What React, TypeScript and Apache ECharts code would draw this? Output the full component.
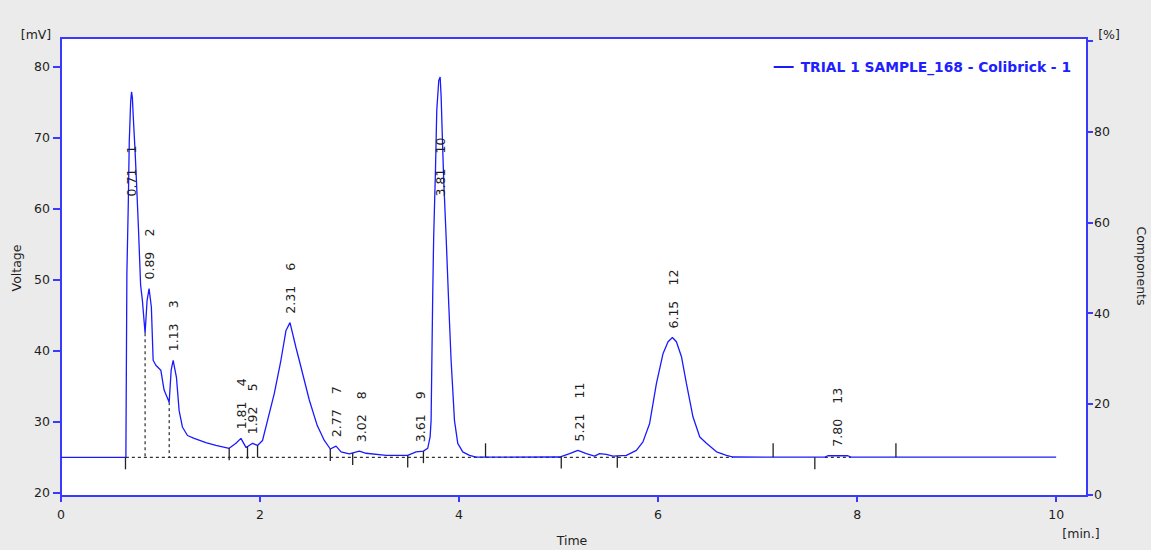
import React, { useEffect, useRef } from 'react';
import * as echarts from 'echarts';

const FONT = '"DejaVu Sans", Verdana, sans-serif';
const BLUE = '#3a3aff';
const TRACE = '#1a1aff';
const INK = '#1e1e1e';
const SERIES_NAME = 'TRIAL 1 SAMPLE_168 - Colibrick - 1';

// Chromatogram trace (time [min], voltage [mV])
const traceTimes = [
  0, 0.652, 0.662, 0.676, 0.686, 0.7, 0.709, 0.717, 0.728, 0.744, 0.758, 0.778, 0.8, 0.818,
  0.845, 0.865, 0.885, 0.908, 0.926, 0.953, 1.003, 1.036, 1.087, 1.107, 1.127, 1.16, 1.187,
  1.22, 1.271, 1.338, 1.456, 1.556, 1.69, 1.758, 1.808, 1.86, 1.925, 1.975, 2.025, 2.075,
  2.143, 2.21, 2.261, 2.301, 2.361, 2.394, 2.495, 2.575, 2.646, 2.706, 2.764, 2.814, 2.897,
  2.998, 3.065, 3.267, 3.484, 3.568, 3.642, 3.685, 3.709, 3.719, 3.735, 3.745, 3.763, 3.776,
  3.796, 3.81, 3.82, 3.83, 3.846, 3.87, 3.896, 3.92, 3.954, 3.987, 4.037, 4.105, 4.172,
  5.01, 5.111, 5.194, 5.279, 5.362, 5.412, 5.48, 5.546, 5.681, 5.782, 5.848, 5.915, 5.983,
  6.049, 6.1, 6.144, 6.184, 6.235, 6.285, 6.351, 6.419, 6.486, 6.587, 6.687, 6.754, 7.676,
  7.706, 7.907, 7.938, 10.0,
];
const traceVoltages = [
  24.93, 24.93, 50.8, 60.5, 69.4, 75.0, 76.4, 75.6, 72.4, 68.2, 63.9, 57.3, 49.2, 47.0,
  42.4, 47.0, 48.7, 46.1, 38.6, 37.9, 37.2, 34.4, 32.7, 37.2, 38.6, 36.2, 31.5,
  29.2, 28.0, 27.6, 27.0, 26.6, 26.2, 26.9, 27.6, 26.3, 26.9, 26.6, 27.3, 30.1,
  33.9, 38.6, 42.8, 43.9, 40.4, 38.6, 33.0, 29.4, 27.3, 26.1, 26.5, 25.7, 25.4,
  25.8, 25.5, 25.2, 25.2, 25.7, 25.8, 26.2, 27.8, 30.1, 47.5, 56.0, 65.4, 73.8,
  78.0, 78.5, 75.7, 71.0, 63.9, 56.0, 46.6, 38.6, 30.1, 26.9, 25.7, 25.2, 24.96,
  24.97, 25.45, 25.9, 25.45, 25.1, 25.45, 25.35, 25.1, 25.2, 25.9, 27.1, 29.7, 35.3,
  39.5, 41.2, 41.8, 41.2, 39.1, 35.3, 30.6, 27.8, 26.9, 25.7, 25.2, 24.97, 24.95,
  25.15, 25.15, 24.95, 24.95,
];

// Peak annotations
const peakTimes = [0.71, 0.89, 1.13, 1.81, 1.92, 2.31, 2.77, 3.02, 3.61, 3.81, 5.21, 6.15, 7.8];
const peakNumbers = [1, 2, 3, 4, 5, 6, 7, 8, 9, 10, 11, 12, 13];
const peakApex = [76.4, 48.7, 38.6, 27.6, 26.9, 43.9, 26.5, 25.8, 25.8, 78.5, 25.9, 41.8, 25.15];

// Integration marks
const BASELINE = 24.93;
const baselineSegments = [
  [0.652, 6.754],
  [7.676, 7.938],
];
const dropLineTimes = [0.845, 1.087];
const downTickTimes = [0.648, 1.69, 1.874, 1.975, 2.706, 2.931, 3.484, 3.642, 5.027, 5.59, 7.575];
const upTickTimes = [4.266, 7.156, 8.39];

// Axis ticks
const timeTicks = [0, 2, 4, 6, 8, 10];
const voltageTicks = [20, 30, 40, 50, 60, 70, 80];
const componentTicks = [0, 20, 40, 60, 80];

const LABEL_CAP = 60.4; // labels of very tall peaks are kept lower

function traceAt(t: number): number {
  for (let i = 1; i < traceTimes.length; i++) {
    if (t <= traceTimes[i]) {
      const t0 = traceTimes[i - 1];
      const t1 = traceTimes[i];
      const f = t1 === t0 ? 0 : (t - t0) / (t1 - t0);
      return traceVoltages[i - 1] + f * (traceVoltages[i] - traceVoltages[i - 1]);
    }
  }
  return traceVoltages[traceVoltages.length - 1];
}

const textStyleBase = { fontSize: 12.5, fontFamily: FONT, fill: INK };

export default function App() {
  const ref = useRef<HTMLDivElement>(null);

  useEffect(() => {
    if (!ref.current) return;
    const chart = echarts.init(ref.current, null, { renderer: 'svg' });

    const option: any = {
      animation: false,
      backgroundColor: '#ebebeb',
      textStyle: { fontFamily: FONT },
      grid: {
        left: 61,
        right: 64,
        top: 38,
        bottom: 54,
        show: true,
        backgroundColor: '#ffffff',
        borderColor: BLUE,
        borderWidth: 2,
        containLabel: false,
        outerBoundsMode: 'none',
      },
      legend: {
        top: 55,
        right: 75,
        icon: 'rect',
        itemWidth: 20,
        itemHeight: 2,
        data: [SERIES_NAME],
        textStyle: {
          fontFamily: FONT,
          fontSize: 13.8,
          fontWeight: 'bold',
          color: '#2020ff',
          padding: [0, 0, 0, 2],
        },
      },
      xAxis: {
        type: 'value',
        min: 0,
        max: 10.31,
        position: 'bottom',
        axisLine: { show: true, onZero: false, lineStyle: { color: BLUE, width: 2 } },
        axisTick: { show: true, length: 6, customValues: timeTicks, lineStyle: { color: BLUE, width: 2 } },
        axisLabel: { customValues: timeTicks, margin: 12, color: INK, fontSize: 12.5, fontFamily: FONT },
        splitLine: { show: false },
      },
      yAxis: [
        {
          type: 'value',
          min: 19.48,
          max: 83.99,
          position: 'left',
          axisLine: { show: true, onZero: false, lineStyle: { color: BLUE, width: 2 } },
          axisTick: { show: true, length: 8, customValues: voltageTicks, lineStyle: { color: BLUE, width: 2 } },
          axisLabel: { customValues: voltageTicks, margin: 11, color: INK, fontSize: 12.5, fontFamily: FONT },
          splitLine: { show: false },
        },
        {
          type: 'value',
          min: -0.3,
          max: 100.6,
          position: 'right',
          axisLine: { show: true, onZero: false, lineStyle: { color: BLUE, width: 2 } },
          axisTick: { show: true, length: 6, customValues: [...componentTicks, 100], lineStyle: { color: BLUE, width: 2 } },
          axisLabel: { customValues: componentTicks, margin: 7, color: INK, fontSize: 12.5, fontFamily: FONT },
          splitLine: { show: false },
        },
      ],
      graphic: [
        { type: 'text', x: 36, y: 34, style: { ...textStyleBase, text: '[mV]', align: 'center', verticalAlign: 'middle' } },
        { type: 'text', x: 1109, y: 34, style: { ...textStyleBase, text: '[%]', align: 'center', verticalAlign: 'middle' } },
        { type: 'text', x: 16, y: 268, rotation: Math.PI / 2, style: { ...textStyleBase, text: 'Voltage', align: 'center', verticalAlign: 'middle' } },
        { type: 'text', x: 1141, y: 266, rotation: -Math.PI / 2, style: { ...textStyleBase, text: 'Components', align: 'center', verticalAlign: 'middle' } },
        { type: 'text', x: 572, y: 540, style: { ...textStyleBase, text: 'Time', align: 'center', verticalAlign: 'middle' } },
        { type: 'text', x: 1081, y: 533, style: { ...textStyleBase, text: '[min.]', align: 'center', verticalAlign: 'middle' } },
      ],
      series: [
        {
          name: 'baseline',
          type: 'custom',
          silent: true,
          z: 1,
          data: baselineSegments,
          renderItem: (_p: any, api: any) => {
            const a = api.coord([api.value(0), BASELINE]);
            const b = api.coord([api.value(1), BASELINE]);
            return {
              type: 'line',
              shape: { x1: a[0], y1: a[1], x2: b[0], y2: b[1] },
              style: { stroke: '#000', lineWidth: 1, lineDash: [3, 3] },
            };
          },
        },
        {
          name: SERIES_NAME,
          type: 'line',
          z: 3,
          showSymbol: false,
          symbol: 'none',
          color: TRACE,
          lineStyle: { color: TRACE, width: 1.3 },
          data: traceTimes.map((t, i) => [t, traceVoltages[i]]),
        },
        {
          name: 'drops',
          type: 'custom',
          silent: true,
          z: 2,
          data: dropLineTimes.map((t) => [t]),
          renderItem: (_p: any, api: any) => {
            const t = api.value(0);
            const a = api.coord([t, traceAt(t)]);
            const b = api.coord([t, BASELINE]);
            return {
              type: 'line',
              shape: { x1: a[0], y1: a[1], x2: b[0], y2: b[1] },
              style: { stroke: '#000', lineWidth: 1, lineDash: [3, 3] },
            };
          },
        },
        {
          name: 'downTicks',
          type: 'custom',
          silent: true,
          z: 4,
          data: downTickTimes.map((t) => [t]),
          renderItem: (_p: any, api: any) => {
            const t = api.value(0);
            const a = api.coord([t, traceAt(t)]);
            return {
              type: 'line',
              shape: { x1: a[0], y1: a[1], x2: a[0], y2: a[1] + 12 },
              style: { stroke: '#222', lineWidth: 1.3 },
            };
          },
        },
        {
          name: 'upTicks',
          type: 'custom',
          silent: true,
          z: 4,
          data: upTickTimes.map((t) => [t]),
          renderItem: (_p: any, api: any) => {
            const t = api.value(0);
            const a = api.coord([t, BASELINE]);
            return {
              type: 'line',
              shape: { x1: a[0], y1: a[1] - 14, x2: a[0], y2: a[1] },
              style: { stroke: '#222', lineWidth: 1.3 },
            };
          },
        },
        {
          name: 'peakLabels',
          type: 'custom',
          silent: true,
          z: 5,
          data: peakTimes.map((t, i) => [t, peakApex[i], peakNumbers[i]]),
          renderItem: (_p: any, api: any) => {
            const t = api.value(0);
            const apex = api.value(1);
            const n = api.value(2);
            const p = api.coord([t, Math.min(apex, LABEL_CAP)]);
            return {
              type: 'group',
              children: [
                {
                  type: 'text',
                  x: p[0],
                  y: p[1] - 9,
                  rotation: Math.PI / 2,
                  style: { ...textStyleBase, text: Number(t).toFixed(2), align: 'left', verticalAlign: 'middle' },
                },
                {
                  type: 'text',
                  x: p[0],
                  y: p[1] - 52,
                  rotation: Math.PI / 2,
                  style: { ...textStyleBase, text: String(n), align: 'left', verticalAlign: 'middle' },
                },
              ],
            };
          },
        },
      ],
    };

    chart.setOption(option);
    return () => chart.dispose();
  }, []);

  return (
    <div
      ref={ref}
      style={{ position: 'absolute', left: 0, top: 0, width: 1151, height: 550 }}
    />
  );
}
